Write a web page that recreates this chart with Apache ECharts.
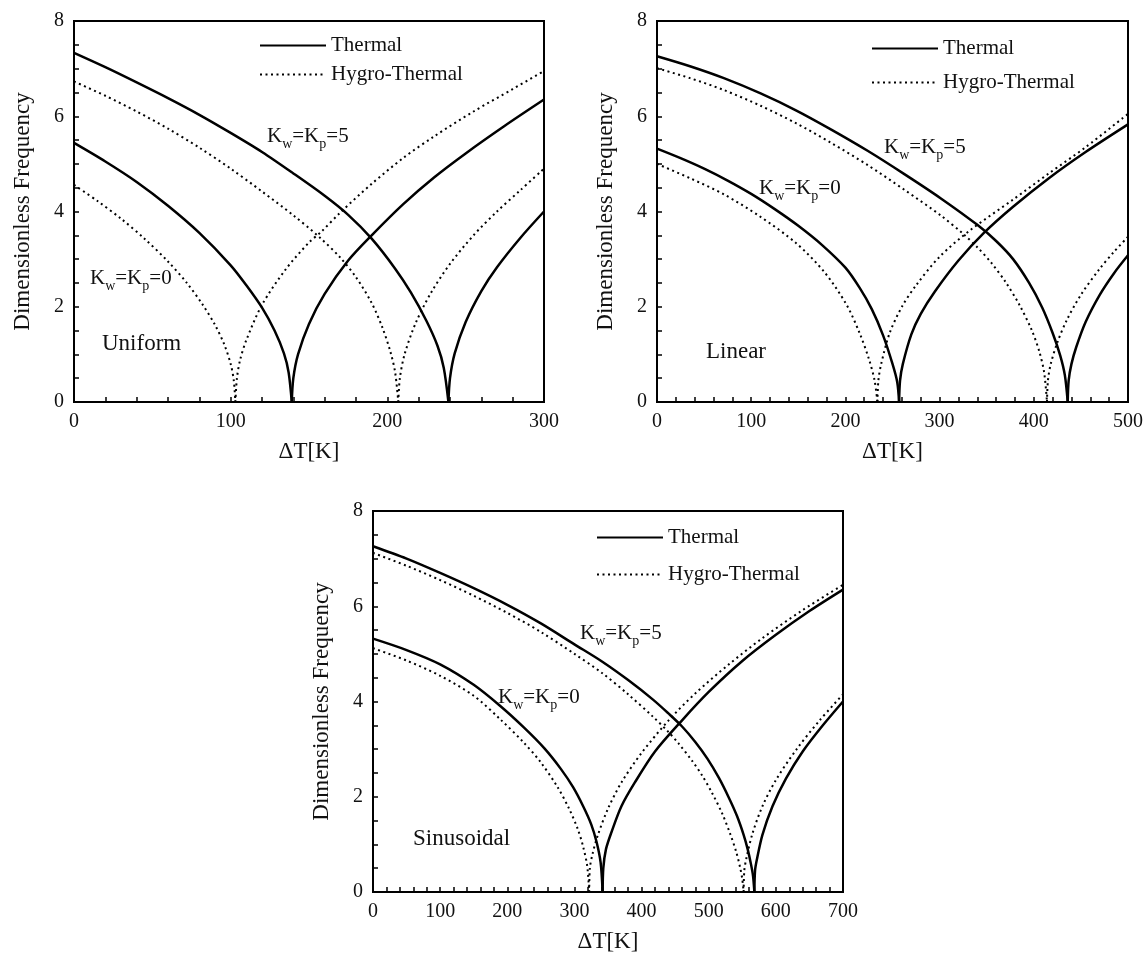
<!DOCTYPE html>
<html><head><meta charset="utf-8">
<script src="https://cdn.jsdelivr.net/npm/echarts@6/dist/echarts.min.js"></script>
<style>html,body{margin:0;padding:0;background:#fff}#c{width:1146px;height:958px}</style>
</head><body><div id="c"></div>
<script>
// ---------- DATA : [ΔT, frequency] ----------
// Uniform
const uniThermal0 = [[0,5.44],[20,5.05],[40,4.62],[60,4.12],[80,3.55],[100,2.87],[110,2.45],[120,1.98],[128,1.5],[134,1.02],[137,0.62],[139,0]];
const uniThermal0Post = [[139,0],[140,0.5],[143,1.0],[150,1.64],[160,2.27],[175,2.97],[190,3.5],[210,4.15],[230,4.72],[250,5.22],[275,5.8],[300,6.35]];
const uniThermal5 = [[0,7.33],[20,7.03],[40,6.71],[60,6.38],[80,6.03],[100,5.65],[120,5.25],[140,4.8],[160,4.33],[175,3.93],[190,3.43],[205,2.8],[215,2.3],[225,1.7],[232,1.18],[236,0.72],[239,0]];
const uniThermal5Post = [[239,0],[240,0.5],[243,1.02],[250,1.68],[260,2.33],[270,2.83],[285,3.45],[300,4.0]];
const uniHygro0 = [[0,4.56],[15,4.22],[30,3.85],[45,3.43],[60,2.95],[72,2.5],[82,2.05],[90,1.62],[96,1.2],[100,0.8],[102,0.45],[103,0]];
const uniHygro0Post = [[103,0],[104,0.5],[106,0.88],[110,1.3],[120,2.04],[135,2.78],[150,3.35],[158,3.58],[170,3.98],[190,4.58],[210,5.12],[230,5.58],[255,6.1],[280,6.57],[300,6.95]];
const uniHygro5 = [[0,6.73],[20,6.43],[40,6.1],[60,5.74],[80,5.34],[100,4.9],[120,4.42],[140,3.92],[157,3.45],[170,3.03],[180,2.62],[190,2.08],[197,1.55],[202,1.05],[205,0.62],[207,0]];
const uniHygro5Post = [[207,0],[208,0.5],[211,1.0],[218,1.65],[228,2.3],[240,2.9],[255,3.5],[270,4.0],[285,4.45],[300,4.9]];
// Linear
const linThermal0 = [[0,5.32],[25,5.12],[50,4.9],[75,4.65],[100,4.37],[125,4.05],[150,3.7],[175,3.3],[200,2.82],[215,2.4],[228,1.95],[240,1.4],[250,0.8],[255,0.42],[257,0]];
const linThermal0Post = [[257,0],[258,0.45],[261,0.8],[270,1.42],[280,1.85],[295,2.32],[320,2.97],[347,3.55],[378,4.1],[416,4.7],[455,5.25],[500,5.83]];
const linThermal5 = [[0,7.26],[35,7.05],[71,6.8],[110,6.48],[148,6.12],[185,5.72],[224,5.27],[263,4.78],[301,4.28],[340,3.72],[360,3.38],[378,3.0],[395,2.5],[409,1.98],[420,1.45],[428,0.98],[433,0.56],[436,0]];
const linThermal5Post = [[436,0],[437,0.45],[440,0.8],[445,1.15],[455,1.68],[470,2.25],[485,2.7],[500,3.08]];
const linHygro0 = [[0,5.0],[35,4.7],[71,4.36],[109,3.9],[148,3.33],[178,2.72],[201,2.05],[215,1.45],[225,0.9],[231,0.45],[234,0]];
const linHygro0Post = [[234,0],[235,0.45],[238,0.8],[247,1.45],[260,2.0],[275,2.45],[300,3.05],[332,3.6],[378,4.25],[416,4.8],[455,5.35],[500,6.05]];
const linHygro5 = [[0,7.01],[35,6.8],[71,6.55],[110,6.22],[148,5.85],[185,5.44],[224,4.97],[263,4.45],[301,3.92],[325,3.53],[340,3.25],[355,2.92],[370,2.52],[385,2.03],[398,1.5],[406,1.05],[411,0.62],[414,0]];
const linHygro5Post = [[414,0],[415,0.45],[418,0.8],[425,1.25],[435,1.72],[450,2.25],[470,2.8],[485,3.15],[500,3.47]];
// Sinusoidal
const sinThermal0 = [[0,5.32],[50,5.08],[100,4.78],[150,4.35],[190,3.9],[225,3.45],[255,3.02],[280,2.58],[298,2.2],[313,1.8],[325,1.42],[333,1.05],[339,0.62],[342,0]];
const sinThermal0Post = [[342,0],[343,0.5],[347,0.9],[355,1.25],[370,1.8],[390,2.3],[420,2.95],[460,3.6],[500,4.2],[550,4.85],[600,5.4],[650,5.9],[700,6.35]];
const sinThermal5 = [[0,7.26],[50,7.0],[100,6.7],[150,6.38],[200,6.03],[250,5.64],[300,5.2],[341,4.84],[380,4.45],[417,4.04],[440,3.75],[460,3.48],[480,3.15],[498,2.8],[515,2.4],[530,1.98],[542,1.6],[552,1.2],[558,0.9],[563,0.58],[566,0.34],[568,0]];
const sinThermal5Post = [[568,0],[569,0.45],[572,0.7],[580,1.2],[595,1.8],[615,2.38],[640,2.95],[670,3.5],[700,4.0]];
const sinHygro0 = [[0,5.12],[50,4.86],[100,4.54],[150,4.12],[190,3.62],[225,3.13],[250,2.72],[275,2.2],[292,1.75],[305,1.32],[313,0.95],[319,0.55],[322,0]];
const sinHygro0Post = [[322,0],[323,0.5],[327,0.8],[335,1.2],[350,1.75],[370,2.3],[400,2.92],[440,3.6],[480,4.17],[530,4.78],[580,5.33],[640,5.92],[700,6.45]];
const sinHygro5 = [[0,7.12],[50,6.85],[100,6.55],[150,6.22],[200,5.86],[250,5.46],[300,5.0],[341,4.6],[380,4.15],[417,3.68],[440,3.36],[455,3.12],[475,2.76],[490,2.45],[505,2.08],[520,1.65],[532,1.22],[541,0.84],[547,0.5],[550,0.27],[552,0]];
const sinHygro5Post = [[552,0],[553,0.45],[556,0.7],[565,1.22],[580,1.8],[600,2.35],[630,2.98],[665,3.6],[700,4.15]];

const xMaxes = [300, 500, 700];
const yTicks = [0, 2, 4, 6, 8];
const legendNames = ['Thermal', 'Hygro-Thermal'];
const panelLabels = ['Uniform', 'Linear', 'Sinusoidal'];
const xName = 'ΔT[K]';
const yName = 'Dimensionless Frequency';

// ---------- LAYOUT ----------
const FONT = '"Liberation Serif","Times New Roman",serif';
const INK = '#111';
const grids = [
  {left: 74, top: 21, width: 470, height: 381},
  {left: 657, top: 21, width: 471, height: 381},
  {left: 373, top: 511, width: 470, height: 381}
];
const legendPos = [
  {left: 254, top: 30, itemGap: 8},
  {left: 866, top: 33, itemGap: 13},
  {left: 591, top: 522, itemGap: 16}
];
// annotation positions: [left, capCenterY]
const annoPos = [
  {k5: [267, 134], k0: [90, 276], lab: [102, 345]},
  {k5: [884, 145], k0: [759, 186], lab: [706, 353]},
  {k5: [580, 631], k0: [498, 695], lab: [413, 840]}
];

const panelCurves = [
  [[uniThermal0,0],[uniThermal0Post,0],[uniThermal5,0],[uniThermal5Post,0],[uniHygro0,1],[uniHygro0Post,1],[uniHygro5,1],[uniHygro5Post,1]],
  [[linThermal0,0],[linThermal0Post,0],[linThermal5,0],[linThermal5Post,0],[linHygro0,1],[linHygro0Post,1],[linHygro5,1],[linHygro5Post,1]],
  [[sinThermal0,0],[sinThermal0Post,0],[sinThermal5,0],[sinThermal5Post,0],[sinHygro0,1],[sinHygro0Post,1],[sinHygro5,1],[sinHygro5Post,1]]
];

const solidStyle = {color: '#000', width: 2.5, type: 'solid'};
const dotStyle = {color: '#000', width: 2, type: [2, 3.5]};

const series = [];
panelCurves.forEach((curves, pi) => {
  curves.forEach(([data, kind]) => {
    series.push({
      type: 'line', name: legendNames[kind], xAxisIndex: pi, yAxisIndex: pi,
      data: data, showSymbol: false, symbol: 'none', smooth: 0.3,
      lineStyle: kind === 0 ? solidStyle : dotStyle, itemStyle: {color: '#000'},
      animation: false, silent: true, clip: true
    });
  });
});

const xAxes = xMaxes.map((mx, i) => ({
  type: 'value', gridIndex: i, min: 0, max: mx, interval: 100,
  name: xName, nameLocation: 'middle', nameGap: 38,
  nameTextStyle: {fontFamily: FONT, fontSize: 23, color: INK},
  axisLine: {show: true, onZero: false, lineStyle: {color: '#000', width: 2}},
  axisTick: {show: true, inside: true, length: 5, lineStyle: {color: '#000', width: 1.5}},
  minorTick: {show: true, splitNumber: 5, length: 5, lineStyle: {color: '#000', width: 1.5}},
  axisLabel: {fontFamily: FONT, fontSize: 20, color: INK, margin: 10},
  splitLine: {show: false}
}));
const yAxes = xMaxes.map((mx, i) => ({
  type: 'value', gridIndex: i, min: yTicks[0], max: yTicks[yTicks.length - 1], interval: 2,
  name: yName, nameLocation: 'middle', nameGap: 40, nameRotate: 90,
  nameTextStyle: {fontFamily: FONT, fontSize: 23, color: INK},
  axisLine: {show: true, onZero: false, lineStyle: {color: '#000', width: 2}},
  axisTick: {show: true, inside: true, length: 5, lineStyle: {color: '#000', width: 1.5}},
  minorTick: {show: true, splitNumber: 4, length: 5, lineStyle: {color: '#000', width: 1.5}},
  axisLabel: {fontFamily: FONT, fontSize: 20, color: INK, margin: 10},
  splitLine: {show: false}
}));

const legends = legendPos.map(p => ({
  left: p.left, top: p.top, orient: 'vertical', itemGap: p.itemGap,
  itemWidth: 66, itemHeight: 14, selectedMode: false,
  itemStyle: {opacity: 0, borderWidth: 0},
  data: legendNames.map(n => ({name: n})),
  textStyle: {fontFamily: FONT, fontSize: 21, color: INK, lineHeight: 20}
}));

const kRich = {
  n: {fontFamily: FONT, fontSize: 21, lineHeight: 22, verticalAlign: 'top', fill: INK, color: INK},
  s: {fontFamily: FONT, fontSize: 14, lineHeight: 14, padding: [14, 0, 0, 0], fill: INK, color: INK}
};
function kText(pos, v) {
  return {
    type: 'text', left: pos[0], top: pos[1] - 11, silent: true,
    style: {text: '{n|K}{s|w}{n|=K}{s|p}{n|=' + v + '}', rich: kRich, fill: INK}
  };
}
const graphics = [];
annoPos.forEach((a, i) => {
  graphics.push(kText(a.k5, 5));
  graphics.push(kText(a.k0, 0));
  graphics.push({type: 'text', left: a.lab[0], top: a.lab[1] - 13, silent: true,
    style: {text: panelLabels[i], fontFamily: FONT, fontSize: 23, fill: INK}});
});

const chart = echarts.init(document.getElementById('c'), null, {renderer: 'canvas'});
chart.setOption({
  backgroundColor: '#fff',
  animation: false,
  grid: grids.map(g => Object.assign({show: true, borderColor: '#000', borderWidth: 2, backgroundColor: 'transparent'}, g)),
  xAxis: xAxes,
  yAxis: yAxes,
  legend: legends,
  series: series,
  graphic: graphics
});
</script></body></html>
